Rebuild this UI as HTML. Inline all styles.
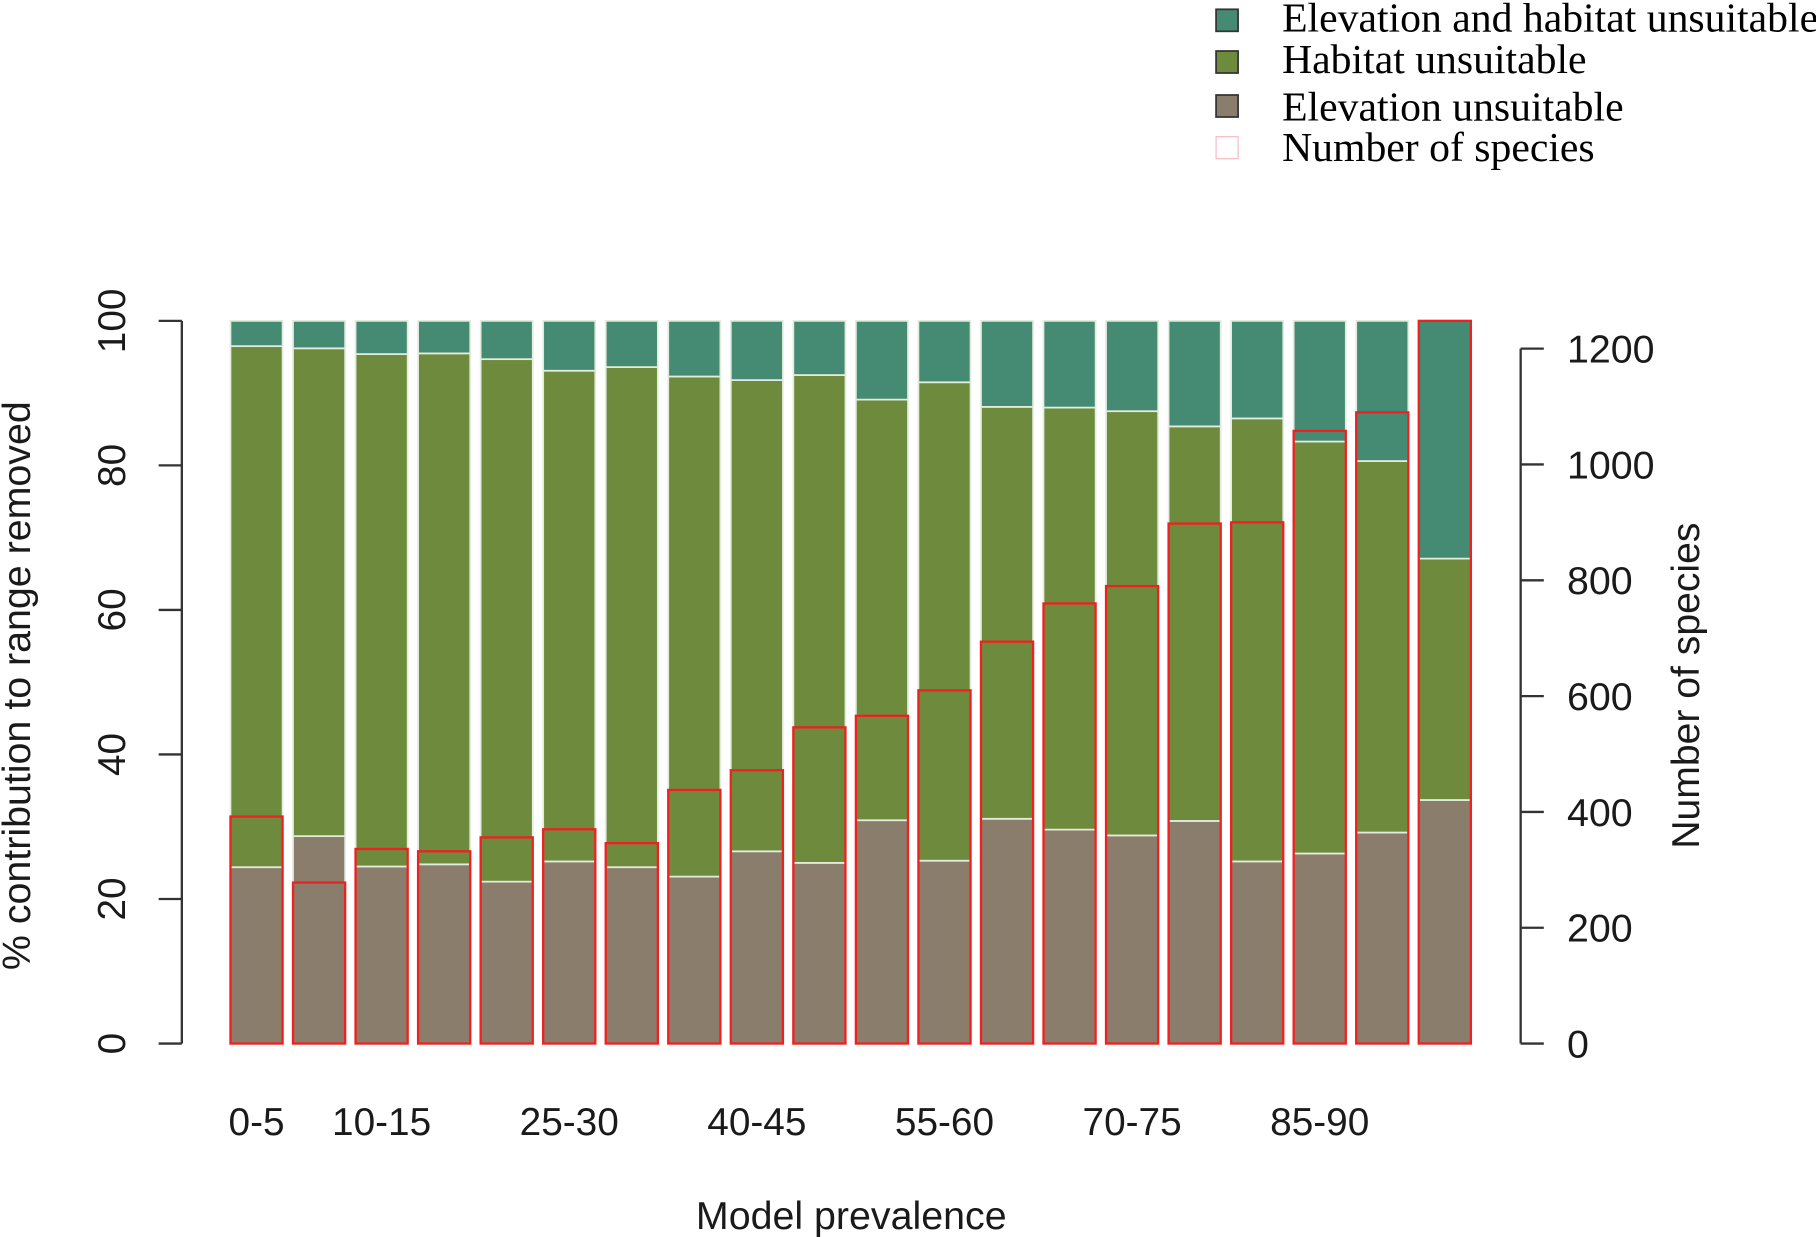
<!DOCTYPE html>
<html><head><meta charset="utf-8"><style>
html,body{margin:0;padding:0;background:#fff;}
svg{display:block;}
text{font-family:"Liberation Sans",sans-serif;fill:#1a1a1a;}
.serif{font-family:"Liberation Serif",serif;fill:#000;}
</style></head><body>
<svg id="chart" width="1816" height="1237" viewBox="0 0 1568 1068" xmlns="http://www.w3.org/2000/svg">
<g id="legend">
  <rect x="1050" y="8" width="19" height="19" fill="#458a72" stroke="#333" stroke-width="1.5"/>
  <text class="serif" x="1107" y="27" font-size="36">Elevation and habitat unsuitable</text>
  <rect x="1050" y="44" width="19" height="19" fill="#6e8b3d" stroke="#333" stroke-width="1.5"/>
  <text class="serif" x="1107" y="63" font-size="36">Habitat unsuitable</text>
  <rect x="1050" y="82" width="19" height="19" fill="#8b7d6b" stroke="#333" stroke-width="1.5"/>
  <text class="serif" x="1107" y="104" font-size="36">Elevation unsuitable</text>
  <rect x="1050" y="118" width="19" height="19" fill="none" stroke="#f5b8c0" stroke-width="1"/>
  <text class="serif" x="1107" y="139" font-size="36">Number of species</text>
</g>
<g id="bars"></g>
<g id="axes"></g>
<text x="735" y="1061" font-size="34" text-anchor="middle">Model prevalence</text>
<text transform="translate(26,592) rotate(-90)" font-size="34" text-anchor="middle">% contribution to range removed</text>
<text transform="translate(1467,592) rotate(-90)" font-size="33.8" text-anchor="middle">Number of species</text>
</svg>
<script>
const categories = ["0-5","5-10","10-15","15-20","20-25","25-30","30-35","35-40","40-45","45-50","50-55","55-60","60-65","65-70","70-75","75-80","80-85","85-90","90-95","95-100"];
const elevationPct = [24.4,28.7,24.5,24.8,22.4,25.2,24.4,23.1,26.6,25.0,30.9,25.3,31.1,29.6,28.8,30.8,25.2,26.3,29.2,33.7];
const habitatTopPct = [96.5,96.2,95.4,95.5,94.7,93.1,93.6,92.3,91.8,92.5,89.1,91.5,88.1,88.0,87.5,85.4,86.5,83.3,80.6,67.1];
const totalPct = [100,100,100,100,100,100,100,100,100,100,100,100,100,100,100,100,100,100,100,100];
const speciesCount = [392,278,336,332,356,370,346,438,472,546,566,610,694,760,790,898,900,1058,1090,1248];
const yTicks = [0,20,40,60,80,100];
const y2Ticks = [0,200,400,600,800,1000,1200];
const shownLabels = ["0-5","10-15","25-30","40-45","55-60","70-75","85-90"];

const NS="http://www.w3.org/2000/svg";
const y0=901, yPx=6.24, y2Px=0.5, barX0=199, pitch=54, barW=45;
const yS=v=>y0-v*yPx, y2S=v=>y0-v*y2Px, xS=i=>barX0+i*pitch;
function mk(tag,attrs,parent){const e=document.createElementNS(NS,tag);for(const k in attrs)e.setAttribute(k,attrs[k]);parent.appendChild(e);return e;}
const bars=document.getElementById('bars'), axes=document.getElementById('axes');
categories.forEach((c,i)=>{
  const x=xS(i);
  const segs=[[0,elevationPct[i],'#8b7d6b','elevation'],[elevationPct[i],habitatTopPct[i],'#6e8b3d','habitat'],[habitatTopPct[i],totalPct[i],'#458a72','both']];
  segs.forEach(s=>{
    const r=mk('rect',{x:x,y:yS(s[1]),width:barW,height:yS(s[0])-yS(s[1]),fill:s[2],stroke:'#e4ecdf','stroke-width':1.5},bars);
    
    
  });
});
categories.forEach((c,i)=>{
  const r=mk('rect',{x:xS(i),y:y2S(speciesCount[i]),width:barW,height:y2S(0)-y2S(speciesCount[i]),fill:'none',stroke:'#f02020','stroke-width':2},bars);
  
  
});
mk('line',{x1:157,y1:yS(0),x2:157,y2:yS(100),stroke:'#333','stroke-width':2},axes);
yTicks.forEach(v=>{
  mk('line',{x1:137,y1:yS(v),x2:157,y2:yS(v),stroke:'#333','stroke-width':2},axes);
  const t=mk('text',{transform:`translate(108,${yS(v)}) rotate(-90)`,'font-size':33.5,'text-anchor':'middle'},axes);
  t.textContent=v;
  
  
});
mk('line',{x1:1313,y1:y2S(0),x2:1313,y2:y2S(1200),stroke:'#333','stroke-width':2},axes);
y2Ticks.forEach(v=>{
  mk('line',{x1:1313,y1:y2S(v),x2:1333,y2:y2S(v),stroke:'#333','stroke-width':2},axes);
  const t=mk('text',{x:1353,y:y2S(v)+12,'font-size':34},axes);
  t.textContent=v;
  
  
});
categories.forEach((c,i)=>{
  if(shownLabels.indexOf(c)<0)return;
  const t=mk('text',{x:xS(i)+barW/2,y:980,'font-size':33.5,'text-anchor':'middle'},axes);
  t.textContent=c;
  
  
});
</script>
</body></html>
